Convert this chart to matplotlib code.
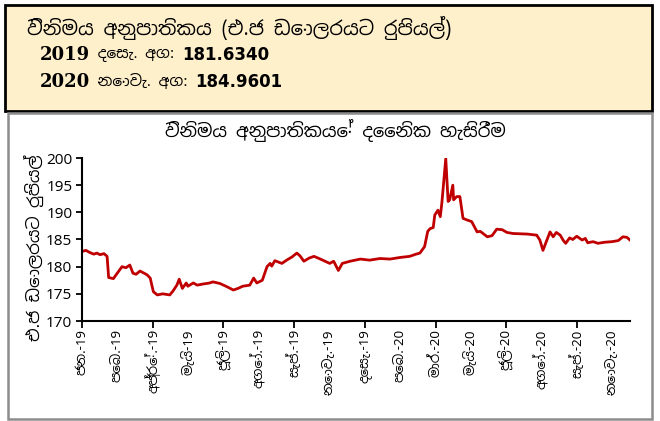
import numpy as np
import pandas as pd
import matplotlib
matplotlib.use("Agg")
import matplotlib.pyplot as plt
from matplotlib import font_manager
from matplotlib.patches import Rectangle

# Daily LKR per USD
dates = ["2019-01-01", "2019-01-06", "2019-01-11", "2019-01-16", "2019-01-20", "2019-01-24",
         "2019-01-29", "2019-02-02", "2019-02-04", "2019-02-10", "2019-02-16", "2019-02-21",
         "2019-02-26", "2019-03-03", "2019-03-07", "2019-03-11", "2019-03-16", "2019-03-25",
         "2019-03-29", "2019-04-02", "2019-04-07", "2019-04-14", "2019-04-23", "2019-04-27",
         "2019-05-02", "2019-05-05", "2019-05-09", "2019-05-14", "2019-05-16", "2019-05-23",
         "2019-05-28", "2019-06-04", "2019-06-13", "2019-06-17", "2019-06-26", "2019-07-05",
         "2019-07-13", "2019-07-19", "2019-07-25", "2019-08-03", "2019-08-08", "2019-08-12",
         "2019-08-19", "2019-08-25", "2019-08-29", "2019-08-31", "2019-09-04", "2019-09-13",
         "2019-09-19", "2019-09-26", "2019-10-02", "2019-10-06", "2019-10-11", "2019-10-18",
         "2019-10-24", "2019-11-01", "2019-11-07", "2019-11-13", "2019-11-18", "2019-11-24",
         "2019-11-29", "2019-12-09", "2019-12-22", "2020-01-03", "2020-01-16", "2020-01-29",
         "2020-02-11", "2020-02-23", "2020-03-02", "2020-03-07", "2020-03-13", "2020-03-17",
         "2020-03-20", "2020-03-24", "2020-03-26", "2020-03-30", "2020-04-02", "2020-04-04",
         "2020-04-09", "2020-04-12", "2020-04-14", "2020-04-18", "2020-04-19", "2020-04-23",
         "2020-04-27", "2020-05-01", "2020-05-06", "2020-05-12", "2020-05-19", "2020-05-23",
         "2020-06-01", "2020-06-07", "2020-06-13", "2020-06-20", "2020-06-26", "2020-07-04",
         "2020-07-22", "2020-08-03", "2020-08-07", "2020-08-11", "2020-08-16", "2020-08-20",
         "2020-08-24", "2020-08-28", "2020-09-02", "2020-09-06", "2020-09-09", "2020-09-14",
         "2020-09-18", "2020-09-23", "2020-09-30", "2020-10-04", "2020-10-07", "2020-10-14",
         "2020-10-20", "2020-10-29", "2020-11-07", "2020-11-15", "2020-11-21", "2020-11-26",
         "2020-11-30"]
rate = [182.8, 183.0, 182.6, 182.3, 182.5, 182.2,
        182.4, 181.9, 178.0, 177.8, 179.0, 180.0,
        179.8, 180.3, 178.8, 178.6, 179.2, 178.5,
        177.9, 175.4, 174.8, 175.0, 174.8, 175.5,
        176.6, 177.7, 176.0, 177.0, 176.4, 177.0,
        176.6, 176.8, 177.0, 177.2, 176.9, 176.3,
        175.7, 176.0, 176.4, 176.6, 177.9, 177.0,
        177.5, 180.0, 180.6, 180.1, 181.1, 180.6,
        181.2, 181.8, 182.5, 182.0, 181.0, 181.6,
        181.9, 181.4, 181.0, 180.6, 181.0, 179.3,
        180.6, 181.0, 181.4, 181.2, 181.5, 181.4,
        181.7, 181.9, 182.3, 182.5, 183.7, 186.5,
        187.0, 187.2, 189.5, 190.4, 189.2, 191.7,
        199.9, 192.0, 192.3, 195.0, 192.3, 192.9,
        192.9, 188.9, 188.6, 188.3, 186.4, 186.5,
        185.5, 185.7, 186.9, 186.8, 186.3, 186.1,
        186.0, 185.8, 184.9, 183.0, 184.9, 186.4,
        185.5, 186.3, 185.8, 184.8, 184.3, 185.3,
        185.0, 185.6, 184.9, 185.2, 184.4, 184.6,
        184.3, 184.5, 184.6, 184.8, 185.5, 185.4,
        184.9]

month_labels = ["ජන.-19", "පෙබ.-19", "අප්‍රේ.-19", "මැයි-19", "ජූලි-19", "අගෝ.-19",
                "සැප්.-19", "නොවැ.-19", "දෙසැ.-19", "පෙබ.-20", "මාර්.-20", "මැයි-20",
                "ජූලි-20", "අගෝ.-20", "සැප්.-20", "නොවැ.-20"]

box_title = "විනිමය අනුපාතිකය (එ.ජ ඩොලරයට රුපියල්)"
box_lines = [("2019", " දෙසැ. අග: ", "181.6340"),
             ("2020", " නොවැ. අග: ", "184.9601")]
chart_title = "විනිමය අනුපාතිකයේ දෛනික හැසිරීම"
y_label = "එ.ජ ඩොලරයට රුපියල්"

# use a Sinhala-capable font if the machine happens to have one
names = {f.name for f in font_manager.fontManager.ttflist}
sinhala = [n for n in ["Noto Sans Sinhala", "Noto Serif Sinhala", "Iskoola Pota",
                       "LKLUG", "Abhaya Libre", "Yaldevi"] if n in names]
fam = sinhala + ["DejaVu Sans"]
plt.rcParams["font.family"] = fam

start = pd.Timestamp("2019-01-01")
x = np.array([(pd.Timestamp(d) - start).days for d in dates])
end_day = (pd.Timestamp("2020-11-30") - start).days

fig = plt.figure(figsize=(6.6, 4.21), dpi=100)

# header box and chart frame (behind the axes)
fig.patches.append(Rectangle((5 / 660, 1 - 111 / 421), 647 / 660, 106 / 421,
                             transform=fig.transFigure, facecolor="#FFF0CC",
                             edgecolor="black", linewidth=2, zorder=-5))
fig.patches.append(Rectangle((8 / 660, 1 - 419 / 421), 644 / 660, 306 / 421,
                             transform=fig.transFigure, facecolor="white",
                             edgecolor="#8C8C8C", linewidth=1.8, zorder=-5))

fig.text(27 / 660, 1 - 28 / 421, box_title, fontsize=14, fontweight="bold",
         va="center", ha="left")
for i, (yr, mid, val) in enumerate(box_lines):
    yy = 1 - (55 + 27 * i) / 421
    t = fig.text(40 / 660, yy, yr, fontsize=13, fontweight="bold", va="center",
                 ha="left", family=["DejaVu Serif"])
    fig.canvas.draw()
    bb = t.get_window_extent()
    t2 = fig.text(bb.x1 / 660, yy, mid, fontsize=11, va="center", ha="left")
    fig.canvas.draw()
    bb2 = t2.get_window_extent()
    fig.text(bb2.x1 / 660, yy, val, fontsize=12, fontweight="bold", va="center", ha="left",
             family=["DejaVu Sans"])

fig.text(335 / 660, 1 - 131 / 421, chart_title, fontsize=13, fontweight="bold",
         ha="center", va="center")

ax = fig.add_axes([82 / 660, 1 - 321 / 421, 548 / 660, 163 / 421])
ax.patch.set_alpha(0)
ax.plot(x, rate, color="#C00000", linewidth=2)

ax.set_xlim(0, end_day)
ax.set_ylim(170, 200)
ax.set_yticks(np.arange(170, 201, 5))
ax.tick_params(axis="y", labelsize=11, direction="out", length=4, width=1.3, pad=3)

# labels on every position, tick marks on every second one
step = 45.1
label_pos = np.arange(len(month_labels)) * step
ax.xaxis.remove_overlapping_locs = False
ax.set_xticks(label_pos[::2])
ax.set_xticklabels([])
ax.set_xticks(label_pos, minor=True)
ax.set_xticklabels(month_labels, minor=True, rotation=90, fontsize=9.5)
ax.tick_params(axis="x", which="major", direction="out", length=5, width=1.3)
ax.tick_params(axis="x", which="minor", length=0, pad=6)

for s in ["top", "right"]:
    ax.spines[s].set_visible(False)
for s in ["left", "bottom"]:
    ax.spines[s].set_linewidth(1.5)

fig.text(34 / 660, 1 - 248 / 421, y_label, rotation=90, fontsize=12,
         ha="center", va="center")

fig.savefig("out.png", dpi=100)
